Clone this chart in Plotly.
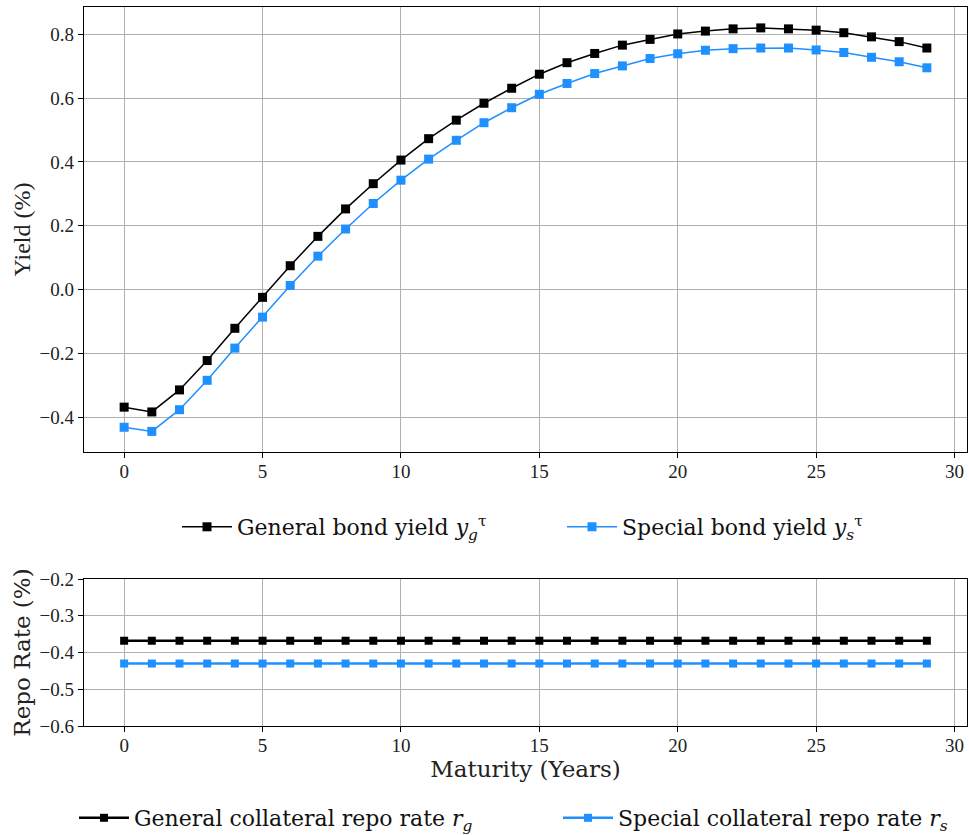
import plotly.graph_objects as go

maturity = list(range(30))
general_yield = [-0.368, -0.383, -0.314, -0.222, -0.121, -0.024, 0.075, 0.167, 0.253, 0.332,
                 0.406, 0.473, 0.531, 0.584, 0.631, 0.675, 0.711, 0.740, 0.766, 0.784,
                 0.801, 0.810, 0.817, 0.820, 0.817, 0.813, 0.805, 0.792, 0.777, 0.757]
special_yield = [-0.431, -0.444, -0.376, -0.284, -0.183, -0.086, 0.013, 0.105, 0.190, 0.270,
                 0.343, 0.409, 0.468, 0.523, 0.570, 0.612, 0.646, 0.677, 0.701, 0.724,
                 0.739, 0.750, 0.755, 0.757, 0.757, 0.751, 0.743, 0.728, 0.714, 0.695]
general_repo = [-0.368, -0.368, -0.368, -0.368, -0.368, -0.368, -0.368, -0.368, -0.368, -0.368,
                -0.368, -0.368, -0.368, -0.368, -0.368, -0.368, -0.368, -0.368, -0.368, -0.368,
                -0.368, -0.368, -0.368, -0.368, -0.368, -0.368, -0.368, -0.368, -0.368, -0.368]
special_repo = [-0.430, -0.430, -0.430, -0.430, -0.430, -0.430, -0.430, -0.430, -0.430, -0.430,
                -0.430, -0.430, -0.430, -0.430, -0.430, -0.430, -0.430, -0.430, -0.430, -0.430,
                -0.430, -0.430, -0.430, -0.430, -0.430, -0.430, -0.430, -0.430, -0.430, -0.430]

x_ticks = [0, 5, 10, 15, 20, 25, 30]
yield_ticks = [-0.4, -0.2, 0.0, 0.2, 0.4, 0.6, 0.8]
repo_ticks = [-0.6, -0.5, -0.4, -0.3, -0.2]

BLACK = "#000000"
BLUE = "#1E90FF"
GRID = "#b0b0b0"
TICK_FONT = dict(family="Liberation Serif, Times New Roman, serif", size=19, color="#222222")
LABEL_FONT = dict(family="DejaVu Serif", size=23, color="#222222")
LEGEND_FONT = dict(family="DejaVu Serif", size=22, color="#111111")

fig = go.Figure()
fig.add_trace(go.Scatter(x=maturity, y=general_yield, mode="lines+markers",
                         name="General bond yield <i>y</i><sub><i>g</i></sub><sup>τ</sup>",
                         line=dict(color=BLACK, width=1.5),
                         marker=dict(symbol="square", size=9, color=BLACK),
                         xaxis="x", yaxis="y", legend="legend"))
fig.add_trace(go.Scatter(x=maturity, y=special_yield, mode="lines+markers",
                         name="Special bond yield <i>y</i><sub><i>s</i></sub><sup>τ</sup>",
                         line=dict(color=BLUE, width=1.5),
                         marker=dict(symbol="square", size=9, color=BLUE),
                         xaxis="x", yaxis="y", legend="legend"))
fig.add_trace(go.Scatter(x=maturity, y=general_repo, mode="lines+markers",
                         name="General collateral repo rate <i>r</i><sub><i>g</i></sub>",
                         line=dict(color=BLACK, width=2.5),
                         marker=dict(symbol="square", size=8, color=BLACK),
                         xaxis="x2", yaxis="y2", legend="legend2"))
fig.add_trace(go.Scatter(x=maturity, y=special_repo, mode="lines+markers",
                         name="Special collateral repo rate <i>r</i><sub><i>s</i></sub>",
                         line=dict(color=BLUE, width=2.5),
                         marker=dict(symbol="square", size=8, color=BLUE),
                         xaxis="x2", yaxis="y2", legend="legend2"))

axis_common = dict(showgrid=True, gridcolor=GRID, gridwidth=1.2,
                   showline=True, linecolor=BLACK, linewidth=1.3, mirror=True,
                   ticks="outside", ticklen=5, tickwidth=1, tickcolor=BLACK,
                   tickfont=TICK_FONT, zeroline=False)

top_domain = [(726 - 452) / 719, 1.0]
bot_domain = [0.0, (726 - 579) / 719]

fig.update_layout(
    width=969, height=835,
    margin=dict(l=84, r=2, t=7, b=109, autoexpand=False),
    paper_bgcolor="white", plot_bgcolor="white",
    showlegend=True,
    xaxis=dict(domain=[0, 1], range=[-1.45, 30.45], tickvals=x_ticks, anchor="y",
               ticklabelstandoff=-3, **axis_common),
    yaxis=dict(domain=top_domain, range=[-0.5085, 0.8855], tickvals=yield_ticks, tickformat=".1f",
               anchor="x",
               title=dict(text="Yield (%)", font=dict(family="Liberation Serif", size=24, color="#222222"),
                          standoff=2),
               **axis_common),
    xaxis2=dict(domain=[0, 1], range=[-1.45, 30.45], tickvals=x_ticks, anchor="y2",
                ticklabelstandoff=-3,
                title=dict(text="Maturity (Years)", font=LABEL_FONT, standoff=0), **axis_common),
    yaxis2=dict(domain=bot_domain, range=[-0.6, -0.2], tickvals=repo_ticks, tickformat=".1f",
                anchor="x2", title=dict(text="Repo Rate (%)", font=LABEL_FONT, standoff=2), **axis_common),
    legend=dict(orientation="h", x=(177 - 84) / 883, xanchor="left",
                y=(726 - 527) / 719, yanchor="middle",
                font=LEGEND_FONT, bgcolor="rgba(0,0,0,0)", itemwidth=50, entrywidth=320),
    legend2=dict(orientation="h", x=(74 - 84) / 883, xanchor="left",
                 y=(726 - 818) / 719, yanchor="middle",
                 font=LEGEND_FONT, bgcolor="rgba(0,0,0,0)", itemwidth=50, entrywidth=419),
)

fig.write_html("out.html")
